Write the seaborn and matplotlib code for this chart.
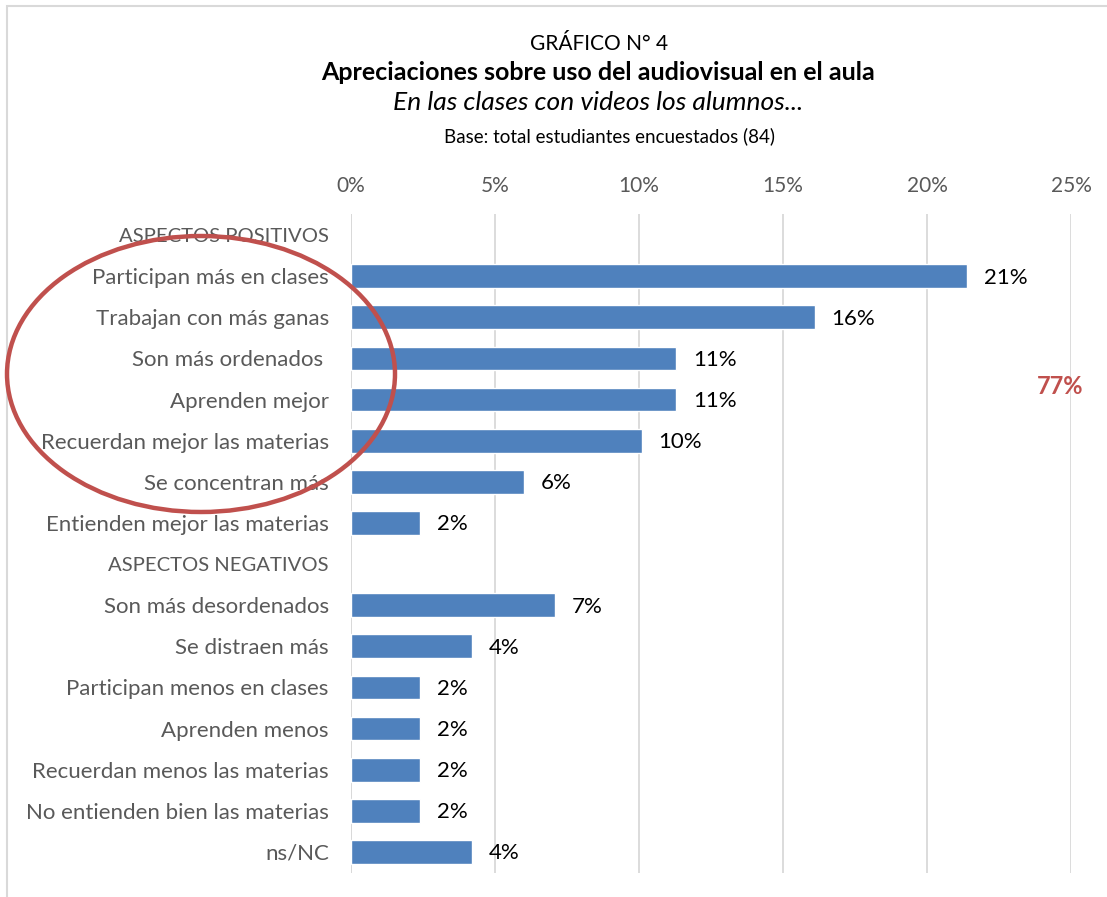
import numpy as np
import pandas as pd
import matplotlib
matplotlib.use("Agg")
import matplotlib.pyplot as plt
from matplotlib.patches import Ellipse, Rectangle
import seaborn as sns

categories = [
    "ASPECTOS POSITIVOS",
    "Participan más en clases",
    "Trabajan con más ganas",
    "Son más ordenados ",
    "Aprenden mejor",
    "Recuerdan mejor las materias",
    "Se concentran más",
    "Entienden mejor las materias",
    "ASPECTOS NEGATIVOS",
    "Son más desordenados",
    "Se distraen más",
    "Participan menos en clases",
    "Aprenden menos",
    "Recuerdan menos las materias",
    "No entienden bien las materias",
    "ns/NC",
]
values = [np.nan, 21.4, 16.1, 11.3, 11.3, 10.1, 6.0, 2.4,
          np.nan, 7.1, 4.2, 2.4, 2.4, 2.4, 2.4, 4.2]
value_labels = ["", "21%", "16%", "11%", "11%", "10%", "6%", "2%",
                "", "7%", "4%", "2%", "2%", "2%", "2%", "4%"]
x_ticks = [0, 5, 10, 15, 20, 25]
x_tick_labels = ["0%", "5%", "10%", "15%", "20%", "25%"]
total_positive = "77%"

title_top = "GRÁFICO N° 4"
title_main = "Apreciaciones sobre uso del audiovisual en el aula"
title_sub = "En las clases con videos los alumnos..."
title_base = "Base: total estudiantes encuestados (84)"

df = pd.DataFrame({"cat": categories, "val": values})

sns.set_theme(style="white")
plt.rcParams["font.family"] = ["Lato", "DejaVu Sans"]

W, H = 1107, 897
fig = plt.figure(figsize=(W / 100, H / 100), dpi=100)
ax = fig.add_axes([351 / W, 1 - 872.5 / H, (1071 - 351) / W, (872.5 - 214.5) / H])

sns.barplot(data=df, y="cat", x="val", order=categories, orient="h",
            color="#4F81BD", saturation=1, width=0.58, ax=ax, zorder=3)

ax.set_xlim(0, 25)
ax.set_ylim(len(categories) - 0.5, -0.5)
ax.set_xticks(x_ticks)
ax.set_xticklabels(x_tick_labels)
ax.xaxis.tick_top()
ax.tick_params(axis="x", length=0, pad=13, labelsize=15, labelcolor="#595959")
ax.tick_params(axis="y", length=0, pad=16, labelsize=16, labelcolor="#595959")
for t in ax.get_yticklabels():
    if t.get_text().isupper():
        t.set_fontsize(14.6)
ax.set_xlabel("")
ax.set_ylabel("")
for s in ax.spines.values():
    s.set_visible(False)
ax.grid(axis="x", color="#D9D9D9", linewidth=1.3, zorder=0)
ax.grid(axis="y", visible=False)
ax.set_axisbelow(True)
ax.axvline(0, color="#D9D9D9", linewidth=1.3, zorder=1)

for i, (v, lab) in enumerate(zip(values, value_labels)):
    if not np.isnan(v):
        ax.annotate(lab, xy=(v, i), xytext=(12, -1), textcoords="offset points",
                    ha="left", va="center", fontsize=16, color="black")

# Titles
fig.text(599 / W, 1 - 44 / H, title_top, ha="center", va="center", fontsize=15, color="black")
fig.text(598 / W, 1 - 73 / H, title_main, ha="center", va="center", fontsize=18,
         fontweight="bold", color="black")
fig.text(598 / W, 1 - 102 / H, title_sub, ha="center", va="center", fontsize=19,
         style="italic", color="black")
fig.text(609 / W, 1 - 136 / H, title_base, ha="center", va="center", fontsize=13.5, color="black")

# 77% annotation
fig.text(1060 / W, 1 - 387 / H, total_positive, ha="center", va="center", fontsize=17,
         fontweight="bold", color="#C0504D")

# Ellipse highlight
fig.patches.append(Ellipse((201 / W, 1 - 374 / H), 388 / W, 276 / H,
                           transform=fig.transFigure, fill=False,
                           edgecolor="#C0504D", linewidth=3.2, zorder=10))

# Chart border
fig.patches.append(Rectangle((7 / W, -0.1), 1.2, 1 - 6 / H + 0.1,
                             transform=fig.transFigure, fill=False,
                             edgecolor="#D9D9D9", linewidth=1.5, zorder=0))

fig.savefig("out.png", dpi=100)
